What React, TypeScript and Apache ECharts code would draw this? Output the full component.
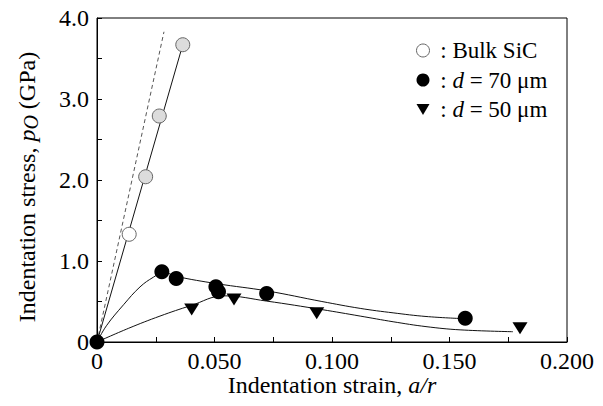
import React, { useEffect, useRef } from "react";
import * as echarts from "echarts";

// Measured points (strain a/r, stress GPa)
const bulkPoints: number[][] = [
  [0.0137, 1.33],
  [0.0207, 2.04],
  [0.0265, 2.79],
  [0.0365, 3.67],
];
const bulkFills = ["#ffffff", "#dcdcdc", "#dcdcdc", "#dcdcdc"];
const d70Points: number[][] = [
  [0, 0],
  [0.0276, 0.866],
  [0.0337, 0.785],
  [0.0506, 0.683],
  [0.0517, 0.62],
  [0.0722, 0.6],
  [0.1567, 0.293],
];
const d50Points: number[][] = [
  [0.0403, 0.4],
  [0.0583, 0.525],
  [0.0935, 0.355],
  [0.18, 0.17],
];
// Fitted curves
const bulkFit: number[][] = [
  [0, 0],
  [0.0365, 3.67],
];
const dashedRef: number[][] = [
  [0, 0],
  [0.0285, 3.83],
];
const fit70: number[][] = [
  [0, 0],
  [0.004, 0.2],
  [0.0113, 0.46],
  [0.0183, 0.68],
  [0.024, 0.8],
  [0.0285, 0.86],
  [0.0337, 0.81],
  [0.051, 0.72],
  [0.0725, 0.63],
  [0.0957, 0.5],
  [0.112, 0.415],
  [0.126, 0.36],
  [0.14, 0.315],
  [0.1545, 0.29],
];
const fit50: number[][] = [
  [0, 0],
  [0.0135, 0.17],
  [0.0268, 0.32],
  [0.04, 0.45],
  [0.054, 0.57],
  [0.0722, 0.505],
  [0.0957, 0.4],
  [0.112, 0.32],
  [0.126, 0.25],
  [0.14, 0.19],
  [0.1545, 0.15],
  [0.177, 0.127],
];
const legendNames = ["bulk", "d70", "d50"];
const legendLabels: Record<string, string> = {
  bulk: " : Bulk SiC",
  d70: " : {i|d} = 70 μm",
  d50: " : {i|d} = 50 μm",
};

const FONT = "Times New Roman, Liberation Serif, serif";
const TRI = "path://M0,0L10,0L5,8.5Z";

export default function App() {
  const ref = useRef<HTMLDivElement>(null);
  useEffect(() => {
    if (!ref.current) return;
    const chart = echarts.init(ref.current, null, { renderer: "svg" });
    const lineStyle = { color: "#111", width: 1 };
    chart.setOption({
      animation: false,
      backgroundColor: "#fff",
      textStyle: { fontFamily: FONT },
      grid: {
        left: 97,
        top: 18,
        right: 36,
        bottom: 64,
        show: true,
        borderColor: "#000",
        borderWidth: 1,
      },
      legend: {
        data: legendNames,
        orient: "vertical",
        left: 416,
        top: 39,
        padding: 0,
        itemWidth: 13,
        itemHeight: 13,
        itemGap: 6.5,
        itemStyle: { borderWidth: 1 },
        formatter: (n: string) => legendLabels[n],
        textStyle: {
          fontFamily: FONT,
          fontSize: 23,
          color: "#000",
          lineHeight: 22,
          rich: {
            i: { fontFamily: FONT, fontSize: 23, fontStyle: "italic", color: "#000" },
          },
        },
      },
      xAxis: {
        type: "value",
        min: 0,
        max: 0.2,
        interval: 0.025,
        name: "{a|Indentation strain, }{i|a/r}",
        nameLocation: "middle",
        nameGap: 31,
        nameMoveOverlap: false,
        nameTextStyle: {
          fontFamily: FONT,
          rich: {
            a: { fontFamily: FONT, fontSize: 24, color: "#000" },
            i: { fontFamily: FONT, fontSize: 24, color: "#000", fontStyle: "italic" },
          },
        },
        axisLine: { lineStyle: { color: "#000", width: 1 } },
        axisTick: { inside: true, length: 5, lineStyle: { color: "#000" } },
        splitLine: { show: false },
        axisLabel: {
          fontFamily: FONT,
          fontSize: 24,
          color: "#000",
          margin: 7,
          formatter: (v: number) => {
            const k = Math.round(v / 0.025);
            if (k % 2 !== 0) return "";
            return k === 0 ? "0" : v.toFixed(3);
          },
        },
      },
      yAxis: {
        type: "value",
        min: 0,
        max: 4,
        interval: 0.5,
        name: "{a|Indentation stress, }{i|p}{s|O}{e| (GPa)}",
        nameLocation: "middle",
        nameGap: 56,
        nameMoveOverlap: false,
        nameTextStyle: {
          fontFamily: FONT,
          rich: {
            a: { fontFamily: FONT, fontSize: 24, color: "#000" },
            e: { fontFamily: FONT, fontSize: 24, color: "#000", padding: [0, 14, 0, 0] },
            i: { fontFamily: FONT, fontSize: 24, color: "#000", fontStyle: "italic" },
            s: {
              fontFamily: FONT,
              fontSize: 20,
              color: "#000",
              fontStyle: "italic",
              padding: [8, 0, 0, 0],
            },
          },
        },
        axisLine: { lineStyle: { color: "#000", width: 1 } },
        axisTick: { inside: true, length: 5, lineStyle: { color: "#000" } },
        splitLine: { show: false },
        axisLabel: {
          fontFamily: FONT,
          fontSize: 24,
          color: "#000",
          margin: 8,
          formatter: (v: number) => {
            const k = Math.round(v / 0.5);
            if (k % 2 !== 0) return "";
            return k === 0 ? "0" : v.toFixed(1);
          },
        },
      },
      series: [
        {
          name: "dashed",
          type: "line",
          data: dashedRef,
          symbol: "none",
          lineStyle: { color: "#555", width: 1, type: [4, 3] },
          z: 1,
        },
        { name: "bulkFit", type: "line", data: bulkFit, symbol: "none", lineStyle, z: 1 },
        { name: "fit70", type: "line", data: fit70, symbol: "none", smooth: 0.4, lineStyle, z: 1 },
        { name: "fit50", type: "line", data: fit50, symbol: "none", smooth: 0.4, lineStyle, z: 1 },
        {
          name: "bulk",
          type: "scatter",
          symbol: "circle",
          symbolSize: 14,
          itemStyle: { color: "#ffffff", borderColor: "#666", borderWidth: 1, opacity: 1 },
          data: bulkPoints.map((p, i) => ({ value: p, itemStyle: { color: bulkFills[i] } })),
          z: 3,
        },
        {
          name: "d70",
          type: "scatter",
          symbol: "circle",
          symbolSize: 15,
          clip: false,
          itemStyle: { color: "#000", opacity: 1 },
          data: d70Points,
          z: 4,
        },
        {
          name: "d50",
          type: "scatter",
          symbol: TRI,
          symbolSize: [15, 12],
          itemStyle: { color: "#000", opacity: 1 },
          data: d50Points,
          z: 4,
        },
      ],
    });
    return () => chart.dispose();
  }, []);
  return <div ref={ref} style={{ width: 603, height: 406, margin: -8 }} />;
}
